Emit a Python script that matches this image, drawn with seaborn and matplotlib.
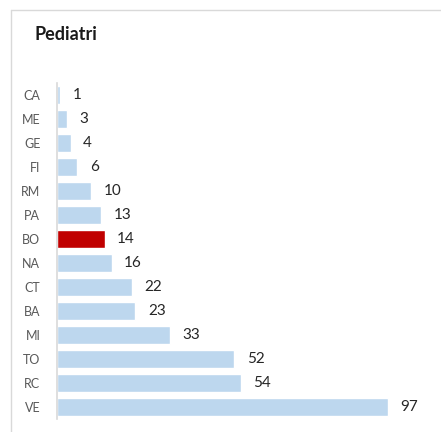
import matplotlib
matplotlib.use("Agg")
import matplotlib.pyplot as plt
import seaborn as sns
from matplotlib.lines import Line2D

cats = ["CA", "ME", "GE", "FI", "RM", "PA", "BO", "NA", "CT", "BA", "MI", "TO", "RC", "VE"]
values = [1, 3, 4, 6, 10, 13, 14, 16, 22, 23, 33, 52, 54, 97]
highlight = "BO"

sns.set_style("white")
plt.rcParams["font.family"] = ["Lato", "DejaVu Sans"]

colors = {c: ("#C00000" if c == highlight else "#BDD7EE") for c in cats}

fig = plt.figure(figsize=(4.41, 4.32), dpi=100)
ax = fig.add_axes([57 / 441, 13 / 432, 375 / 441, 336 / 432])

sns.barplot(x=values, y=cats, hue=cats, palette=colors, orient="h",
            width=0.76, legend=False, saturation=1, ax=ax)

for cont in ax.containers:
    ax.bar_label(cont, padding=9, fontsize=11, color="#262626")

ax.set_xlim(0, 110)
ax.set_ylim(13.5, -0.5)
ax.set_xticks([])
ax.set_xlabel("")
ax.set_ylabel("")
ax.tick_params(axis="y", length=0, pad=12, labelsize=9, labelcolor="#595959")
for s in ["top", "right", "bottom"]:
    ax.spines[s].set_visible(False)
ax.spines["left"].set_color("#D9D9D9")
ax.spines["left"].set_linewidth(1.2)

fig.text(34 / 441, 1 - 35 / 432, "Pediatri", fontsize=13, fontweight="bold",
         color="#1a1a1a", va="center", ha="left")

# outer chart frame
fig.add_artist(Line2D([11 / 441, 1], [1 - 9.5 / 432, 1 - 9.5 / 432], color="#D9D9D9", lw=1))
fig.add_artist(Line2D([11 / 441, 11 / 441], [0, 1 - 9.5 / 432], color="#D9D9D9", lw=1))

fig.savefig("out.png", dpi=100)
